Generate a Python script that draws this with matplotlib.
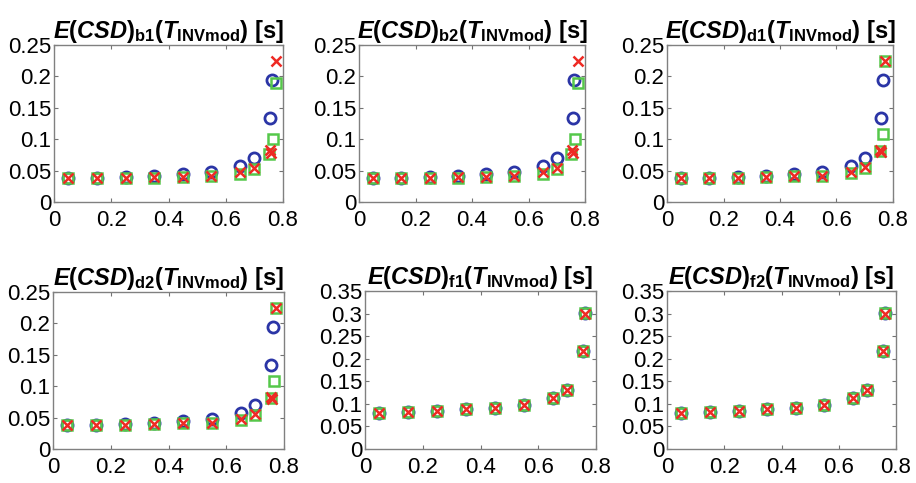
import numpy as np
import matplotlib
matplotlib.use('Agg')
import matplotlib.pyplot as plt

plt.rcParams['font.family'] = ['Liberation Sans', 'DejaVu Sans']
plt.rcParams['mathtext.fontset'] = 'custom'
plt.rcParams['mathtext.rm'] = 'Liberation Sans:bold'
plt.rcParams['mathtext.it'] = 'Liberation Sans:bold:italic'
plt.rcParams['mathtext.bf'] = 'Liberation Sans:bold'

# x positions (T) for each series
x_base = [0.05, 0.15, 0.25, 0.35, 0.45, 0.55, 0.65, 0.70]

# panels b1 / b2
b_circ_x = x_base + [0.756, 0.761]
b_circ_y = [0.039, 0.039, 0.040, 0.042, 0.044, 0.047, 0.057, 0.070, 0.133, 0.194]
b_sq_x = x_base + [0.752, 0.764, 0.775]
b_sq_y = [0.038, 0.038, 0.038, 0.039, 0.040, 0.041, 0.045, 0.052, 0.077, 0.100, 0.190]
b_x_x = x_base + [0.754, 0.758, 0.775]
b_x_y = [0.039, 0.039, 0.039, 0.040, 0.040, 0.042, 0.047, 0.054, 0.083, 0.078, 0.224]

# panels d1 / d2
d_circ_x = x_base + [0.756, 0.763]
d_circ_y = [0.039, 0.039, 0.040, 0.042, 0.044, 0.048, 0.057, 0.070, 0.133, 0.194]
d_sq_x = x_base + [0.755, 0.764, 0.772]
d_sq_y = [0.038, 0.038, 0.039, 0.040, 0.041, 0.042, 0.046, 0.054, 0.082, 0.109, 0.225]
d_x_x = x_base + [0.754, 0.758, 0.772]
d_x_y = [0.039, 0.039, 0.039, 0.040, 0.041, 0.042, 0.048, 0.055, 0.083, 0.080, 0.225]

# panels f1 / f2 (all three series coincide)
f_x = x_base + [0.755, 0.761]
f_circ_y = [0.080, 0.082, 0.084, 0.088, 0.091, 0.098, 0.112, 0.131, 0.218, 0.302]
f_sq_y = [0.080, 0.082, 0.084, 0.088, 0.091, 0.098, 0.112, 0.131, 0.218, 0.302]
f_x_y = [0.080, 0.082, 0.084, 0.088, 0.091, 0.098, 0.112, 0.131, 0.218, 0.300]

names = ['b1', 'b2', 'd1', 'd2', 'f1', 'f2']
panels = [
    (b_circ_x, b_circ_y, b_sq_x, b_sq_y, b_x_x, b_x_y),
    (b_circ_x, b_circ_y, b_sq_x, b_sq_y, b_x_x, b_x_y),
    (d_circ_x, d_circ_y, d_sq_x, d_sq_y, d_x_x, d_x_y),
    (d_circ_x, d_circ_y, d_sq_x, d_sq_y, d_x_x, d_x_y),
    (f_x, f_circ_y, f_x, f_sq_y, f_x, f_x_y),
    (f_x, f_circ_y, f_x, f_sq_y, f_x, f_x_y),
]

# axes boxes in pixels: left, right, top, bottom
W, H = 916, 483
boxes = [
    (54, 283, 45, 202), (359, 585, 45, 202), (667, 893, 45, 202),
    (53, 284, 292, 449), (365, 596, 291, 449), (667, 896, 291, 449),
]

fig = plt.figure(figsize=(W / 100, H / 100), dpi=100)

for name, data, (l, r, t, b) in zip(names, panels, boxes):
    ax = fig.add_axes([l / W, 1 - b / H, (r - l) / W, (b - t) / H])
    cx, cy, sx, sy, xx, xy = data
    ax.plot(cx, cy, 'o', mfc='none', mec='#2b35a6', ms=8, mew=2)
    ax.plot(sx, sy, 's', mfc='none', mec='#55c84a', ms=7, mew=1.8)
    ax.plot(xx, xy, 'x', color='#ee2a24', ms=6.5, mew=1.8)
    ax.set_xlim(0, 0.8)
    ax.set_xticks([0, 0.2, 0.4, 0.6, 0.8])
    ax.set_xticklabels(['0', '0.2', '0.4', '0.6', '0.8'])
    if name.startswith('f'):
        ax.set_ylim(0, 0.35)
        yt = [0, 0.05, 0.1, 0.15, 0.2, 0.25, 0.3, 0.35]
    else:
        ax.set_ylim(0, 0.25)
        yt = [0, 0.05, 0.1, 0.15, 0.2, 0.25]
    ax.set_yticks(yt)
    ax.set_yticklabels(['0' if v == 0 else ('%g' % v) for v in yt])
    ax.tick_params(direction='in', top=True, right=True, length=3,
                   labelsize=16, color='0.45')
    ax.tick_params(axis='y', pad=2)
    ax.tick_params(axis='x', pad=6)
    for sp in ax.spines.values():
        sp.set_color('0.5')
        sp.set_linewidth(1.0)
    ax.set_title(r'$E(CSD)_{\mathrm{%s}}(T_{\mathrm{INVmod}})$ [s]' % name,
                 fontsize=17, fontweight='bold', pad=5)

fig.savefig('out.png', dpi=100)
